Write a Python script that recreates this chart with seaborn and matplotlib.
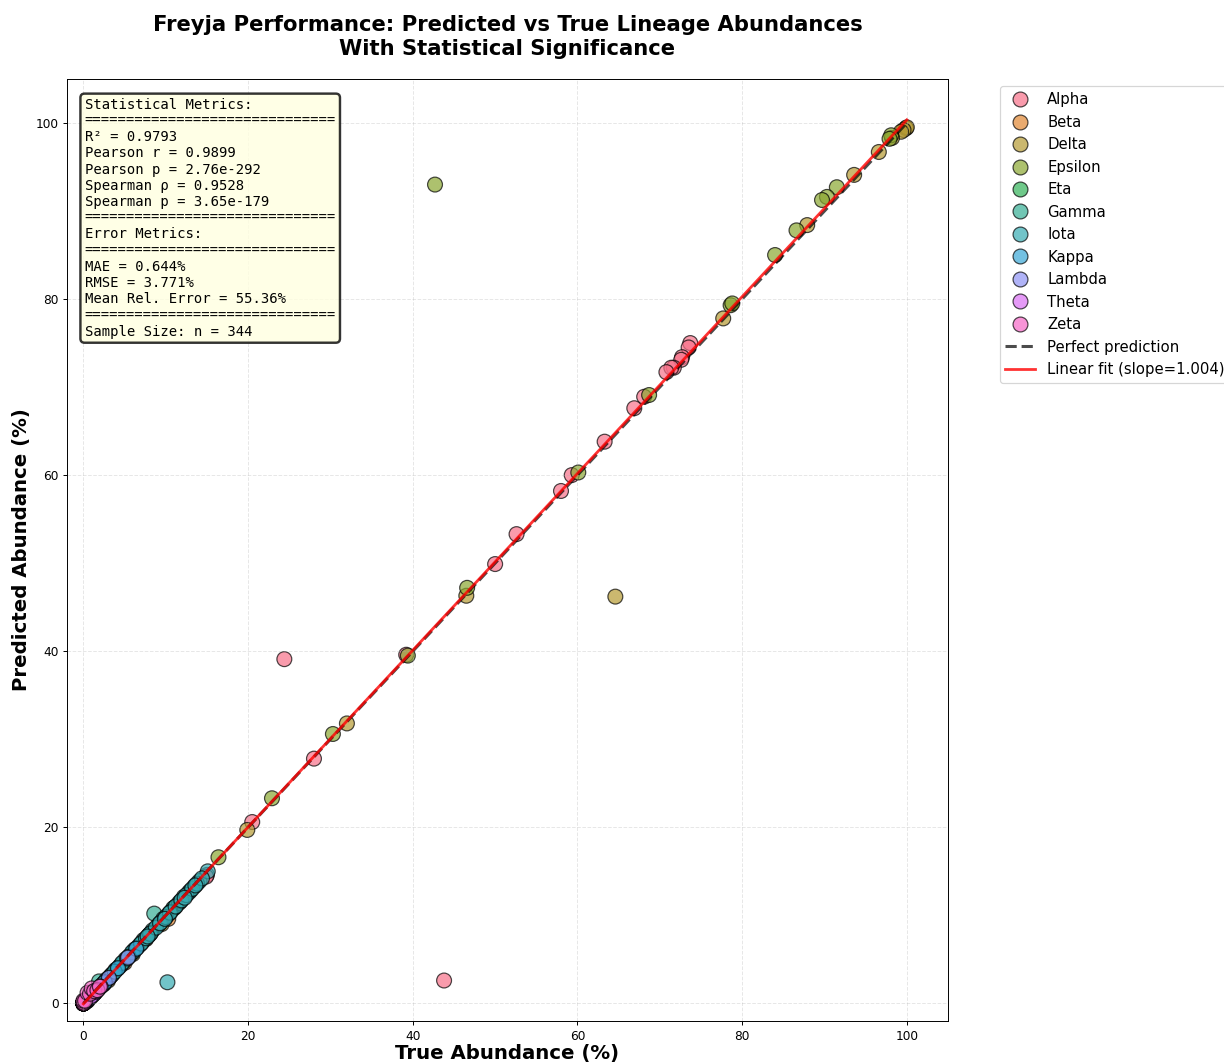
import numpy as np
import pandas as pd
import matplotlib
matplotlib.use("Agg")
import matplotlib.pyplot as plt
import seaborn as sns

# values (true %, predicted %)
alpha_true = [24.4, 43.8, 73.7, 73.5, 72.7, 72.6, 71.7, 71.4, 70.8, 68.1, 66.9, 63.3, 59.3, 58.0,
              52.6, 50.0, 39.2, 28.0, 20.5, 15.0, 14.9, 2.0, 1.6, 1.2, 0.8, 0.4, 0.0, 0.0, 0.0]
alpha_pred = [39.1, 2.6, 75.0, 74.5, 73.4, 73.1, 72.2, 72.2, 71.7, 68.9, 67.6, 63.8, 60.0, 58.2,
              53.3, 49.9, 39.6, 27.8, 20.6, 14.6, 14.4, 1.9, 1.5, 1.3, 0.7, 0.4, 0.0, 0.1, 0.0]

beta_true = [10.3, 7.6, 5.0, 3.2, 1.4, 0.6, 0.0, 0.0]
beta_pred = [9.6, 7.3, 4.6, 3.0, 1.2, 0.5, 0.0, 0.1]

delta_true = [64.6, 99.9, 100.0, 99.6, 99.3, 98.2, 96.6, 93.6, 87.9, 77.7, 46.5, 32.0, 19.9,
              9.5, 6.0, 3.0, 2.5, 0.5, 0.0]
delta_pred = [46.2, 99.4, 99.5, 99.2, 99.0, 98.3, 96.7, 94.1, 88.4, 77.8, 46.3, 31.8, 19.7,
              9.0, 5.6, 2.6, 2.2, 0.3, 0.0]

epsilon_true = [42.7, 98.1, 97.9, 91.5, 90.3, 89.7, 86.6, 84.0, 78.6, 78.8, 68.7, 60.1, 46.6,
                39.4, 30.3, 22.9, 16.4, 11.2, 1.0, 0.0]
epsilon_pred = [93.0, 98.6, 98.2, 92.7, 91.6, 91.25, 87.8, 85.0, 79.3, 79.5, 69.1, 60.3, 47.2,
                39.5, 30.6, 23.3, 16.6, 11.0, 0.8, 0.0]

eta_true = [0.0, 0.0, 0.4, 1.0, 2.3, 3.4, 4.5, 8.0, 11.0]
eta_pred = [0.0, 0.1, 0.3, 0.9, 2.1, 3.2, 4.3, 7.8, 10.8]

gamma_true = [8.6, 1.9, 0.0, 0.0, 0.0, 0.3, 0.7, 1.1, 1.5, 2.2, 2.8, 3.3, 3.9, 4.4, 5.1, 5.6,
              6.2, 6.8, 7.3, 7.9, 8.4, 9.1, 9.7, 10.3, 10.9, 11.6, 12.2, 12.8, 13.5, 14.1,
              2.5, 3.6, 4.8, 6.0, 7.1, 8.2, 9.4, 10.6, 11.8, 13.0]
gamma_pred = [10.2, 2.5, 0.0, 0.1, 0.0, 0.2, 0.6, 1.0, 1.4, 2.0, 2.7, 3.1, 3.8, 4.2, 5.0, 5.4,
              6.1, 6.6, 7.2, 7.7, 8.3, 8.9, 9.6, 10.1, 10.8, 11.4, 12.1, 12.6, 13.3, 13.9,
              2.3, 3.4, 4.6, 5.8, 6.9, 8.0, 9.2, 10.4, 11.6, 12.8]

iota_true = [10.2, 15.1, 0.0, 0.0, 0.5, 0.9, 1.3, 1.8, 2.4, 3.0, 3.5, 4.1, 4.7, 5.3, 5.9, 6.5,
             7.0, 7.6, 8.1, 8.8, 9.3, 10.0, 10.5, 11.2, 11.9, 12.5, 13.2, 13.8, 14.4,
             3.8, 5.5, 7.8, 9.9, 12.3, 13.6]
iota_pred = [2.4, 15.0, 0.0, 0.0, 0.4, 0.8, 1.1, 1.6, 2.2, 2.8, 3.3, 3.9, 4.6, 5.1, 5.8, 6.3,
             6.8, 7.4, 7.9, 8.6, 9.1, 9.8, 10.3, 11.0, 11.7, 12.3, 13.0, 13.6, 14.2,
             3.6, 5.3, 7.6, 9.6, 12.0, 13.4]

kappa_true = [0.0, 0.0, 0.3, 0.8, 1.5, 2.6, 4.2, 6.4]
kappa_pred = [0.0, 0.1, 0.2, 0.7, 1.3, 2.4, 4.0, 6.2]

lambda_true = [0.0, 0.0, 0.2, 0.6, 1.2, 3.1, 5.4]
lambda_pred = [0.0, 0.0, 0.1, 0.5, 1.0, 2.9, 5.2]

theta_true = [0.0, 0.0, 0.1, 0.4, 0.9, 1.4, 2.1]
theta_pred = [0.0, 0.1, 0.2, 0.5, 0.8, 1.3, 1.9]

zeta_true = [0.0, 0.0, 0.0, 0.2, 0.5, 0.8, 1.0, 1.3, 1.7, 2.0]
zeta_pred = [0.0, 0.1, 0.3, 0.3, 1.2, 1.1, 1.7, 1.4, 1.5, 1.9]

lineages = ["Alpha", "Beta", "Delta", "Epsilon", "Eta", "Gamma",
            "Iota", "Kappa", "Lambda", "Theta", "Zeta"]

fit_slope = 1.004
fit_intercept = -0.05

stats_text = (
    "Statistical Metrics:\n" + "=" * 30 + "\n"
    "R² = 0.9793\n"
    "Pearson r = 0.9899\n"
    "Pearson p = 2.76e-292\n"
    "Spearman ρ = 0.9528\n"
    "Spearman p = 3.65e-179\n" + "=" * 30 + "\n"
    "Error Metrics:\n" + "=" * 30 + "\n"
    "MAE = 0.644%\n"
    "RMSE = 3.771%\n"
    "Mean Rel. Error = 55.36%\n" + "=" * 30 + "\n"
    "Sample Size: n = 344"
)


def build_frame():
    """Stack the per-lineage arrays into one long table"""
    pairs = [
        (alpha_true, alpha_pred), (beta_true, beta_pred), (delta_true, delta_pred),
        (epsilon_true, epsilon_pred), (eta_true, eta_pred), (gamma_true, gamma_pred),
        (iota_true, iota_pred), (kappa_true, kappa_pred), (lambda_true, lambda_pred),
        (theta_true, theta_pred), (zeta_true, zeta_pred),
    ]
    frames = []
    for name, (t, p) in zip(lineages, pairs):
        frames.append(pd.DataFrame({"true": t, "pred": p, "lineage": name}))
    return pd.concat(frames, ignore_index=True)


df = build_frame()

fig = plt.figure(figsize=(14, 12.17))
ax = fig.add_axes([0.0547, 0.0404, 0.7198, 0.8854])

palette = sns.color_palette("husl", len(lineages))
sns.scatterplot(data=df, x="true", y="pred", hue="lineage", hue_order=lineages,
                palette=palette, s=150, alpha=0.7, edgecolor="black", linewidth=1, ax=ax)

leg = ax.get_legend()
handles = list(leg.legend_handles)
labels = [t.get_text() for t in leg.texts]
leg.remove()

lo, hi = df["true"].min(), df["true"].max()
line_x = np.array([lo, hi])
perfect, = ax.plot(line_x, line_x, "k--", lw=2.5, alpha=0.7, label="Perfect prediction")
fit, = ax.plot(line_x, fit_slope * line_x + fit_intercept, color="red", lw=2.3, alpha=0.8,
               label=f"Linear fit (slope={fit_slope:.3f})")
handles += [perfect, fit]
labels += [perfect.get_label(), fit.get_label()]

ax.legend(handles, labels, bbox_to_anchor=(1.05, 1), loc="upper left", fontsize=12.3)

ax.text(0.02, 0.98, stats_text, transform=ax.transAxes, fontsize=11.4, va="top",
        family="monospace",
        bbox=dict(boxstyle="round", facecolor="lightyellow", alpha=0.8,
                  edgecolor="black", linewidth=2))

ax.set_xlim(-2, 105)
ax.set_ylim(-2, 105)
ax.set_xticks([0, 20, 40, 60, 80, 100])
ax.set_yticks([0, 20, 40, 60, 80, 100])
ax.grid(True, alpha=0.3, linestyle="--")
ax.set_xlabel("True Abundance (%)", fontsize=16.3, fontweight="bold", labelpad=1.5)
ax.set_ylabel("Predicted Abundance (%)", fontsize=16.3, fontweight="bold")
ax.set_title("Freyja Performance: Predicted vs True Lineage Abundances\nWith Statistical Significance",
             fontsize=17.4, fontweight="bold", pad=20)

fig.savefig("out.png", dpi=87.43)
plt.close(fig)
